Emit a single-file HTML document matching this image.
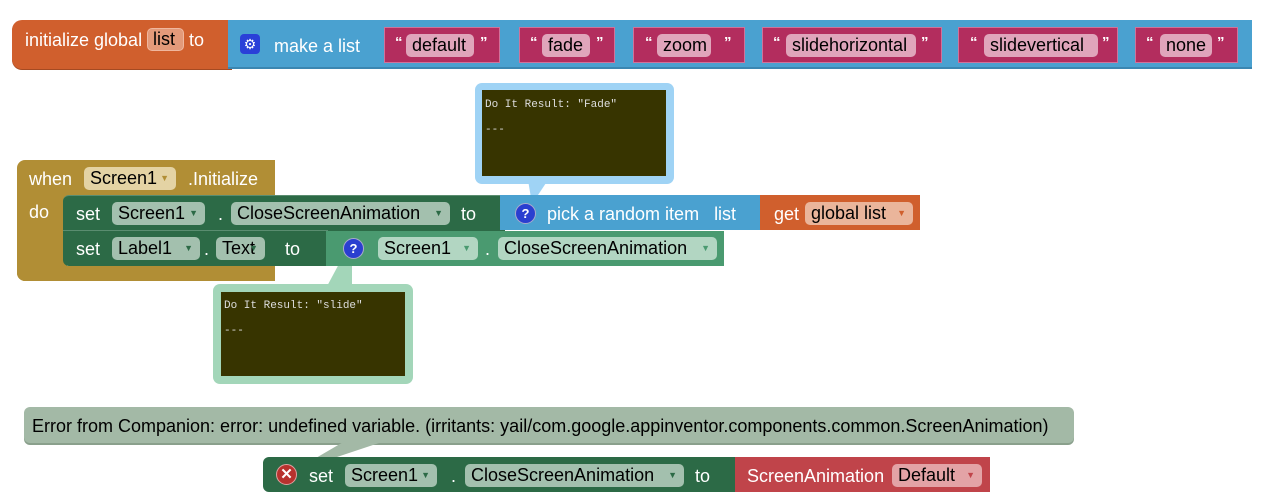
<!DOCTYPE html>
<html><head><meta charset="utf-8"><style>
body{margin:0;width:1265px;height:500px;background:#fff;position:relative;overflow:hidden;font-family:"Liberation Sans",Arial,sans-serif;}
.b{position:absolute;box-sizing:border-box;}
.t{position:absolute;color:#fff;font-size:18px;line-height:20px;white-space:nowrap;}
.f{position:absolute;box-sizing:border-box;border-radius:5px;font-size:18px;line-height:23px;height:23px;padding:0 6px;color:#000;white-space:nowrap;}
.dd{position:absolute;right:7px;top:0;font-size:9px;}
.qt{position:absolute;color:#fff;font-size:15px;font-weight:bold;line-height:20px;}
.q{position:absolute;width:21px;height:21px;border-radius:50%;background:#2a3fd0;border:1px solid #aac;box-sizing:border-box;color:#fff;font-weight:bold;font-size:13px;text-align:center;line-height:19px;}
.mono{font-family:"Liberation Mono",monospace;font-size:11px;color:#ddd;position:absolute;}
</style></head><body>

<!-- Row 1 -->
<div class="b" style="left:12px;top:20px;width:220px;height:49px;background:#d05f2d;border-radius:10px 0 0 10px;box-shadow:0 1px 0 #a54a22;"></div>
<div class="t" style="left:25px;top:30px;">initialize global</div>
<div class="f" style="left:147px;top:28px;width:37px;background:#e39a7a;padding:0 5px;border:1px solid #f0b79e;line-height:21px;">list</div>
<div class="t" style="left:189px;top:30px;">to</div>
<div class="b" style="left:228px;top:20px;width:1024px;height:49px;background:#4aa1d0;border-bottom:2px solid #3b86b1;"></div>
<div class="b" style="left:240px;top:34px;width:20px;height:20px;background:#2a40d8;border-radius:4px;color:#fff;font-size:14px;text-align:center;line-height:20px;">⚙</div>
<div class="t" style="left:274px;top:36px;">make a list</div>

<div class="b" style="left:384px;top:27px;width:116px;height:36px;background:#b32d5e;border:1px solid #d0729a;"></div>
<div class="qt" style="left:395px;top:33px;">“</div>
<div class="f" style="left:406px;top:34px;width:68px;background:#e0a5bb;">default</div>
<div class="qt" style="left:480px;top:33px;">”</div>

<div class="b" style="left:519px;top:27px;width:96px;height:36px;background:#b32d5e;border:1px solid #d0729a;"></div>
<div class="qt" style="left:530px;top:33px;">“</div>
<div class="f" style="left:542px;top:34px;width:48px;background:#e0a5bb;">fade</div>
<div class="qt" style="left:596px;top:33px;">”</div>

<div class="b" style="left:633px;top:27px;width:112px;height:36px;background:#b32d5e;border:1px solid #d0729a;"></div>
<div class="qt" style="left:645px;top:33px;">“</div>
<div class="f" style="left:657px;top:34px;width:54px;background:#e0a5bb;">zoom</div>
<div class="qt" style="left:724px;top:33px;">”</div>

<div class="b" style="left:762px;top:27px;width:180px;height:36px;background:#b32d5e;border:1px solid #d0729a;"></div>
<div class="qt" style="left:773px;top:33px;">“</div>
<div class="f" style="left:786px;top:34px;width:130px;background:#e0a5bb;">slidehorizontal</div>
<div class="qt" style="left:921px;top:33px;">”</div>

<div class="b" style="left:958px;top:27px;width:160px;height:36px;background:#b32d5e;border:1px solid #d0729a;"></div>
<div class="qt" style="left:970px;top:33px;">“</div>
<div class="f" style="left:984px;top:34px;width:114px;background:#e0a5bb;">slidevertical</div>
<div class="qt" style="left:1102px;top:33px;">”</div>

<div class="b" style="left:1135px;top:27px;width:103px;height:36px;background:#b32d5e;border:1px solid #d0729a;"></div>
<div class="qt" style="left:1146px;top:33px;">“</div>
<div class="f" style="left:1160px;top:34px;width:52px;background:#e0a5bb;">none</div>
<div class="qt" style="left:1217px;top:33px;">”</div>

<svg class="b" style="left:0;top:0" width="1265" height="500">
<polygon points="528,180 548,180 532,204" fill="#9fd3f5"/>
<polygon points="340,262 352,250 352,290 325,290" fill="#a3d6b9"/>
</svg>
<!-- bubble 1 -->
<div class="b" style="left:475px;top:83px;width:199px;height:101px;background:#9fd3f5;border-radius:7px;"></div>
<div class="b" style="left:482px;top:90px;width:184px;height:86px;background:#373400;"></div>
<div class="mono" style="left:485px;top:99px;">Do It Result: "Fade"</div>
<div class="mono" style="left:485px;top:124px;">---</div>

<!-- when block -->
<div class="b" style="left:17px;top:160px;width:258px;height:36px;background:#b18e35;border-radius:8px 0 0 0;"></div>
<div class="b" style="left:17px;top:190px;width:50px;height:91px;background:#b18e35;border-radius:0 0 0 8px;"></div>
<div class="b" style="left:17px;top:266px;width:258px;height:15px;background:#b18e35;border-radius:0 0 0 8px;"></div>
<div class="t" style="left:29px;top:169px;">when</div>
<div class="f" style="left:84px;top:167px;width:92px;background:#e4d3a4;">Screen1<span class="dd" style="color:#b18e35">▼</span></div>
<div class="t" style="left:188px;top:169px;">.Initialize</div>
<div class="t" style="left:29px;top:202px;">do</div>

<!-- set 1 -->
<div class="b" style="left:63px;top:195px;width:442px;height:36px;background:#2c6a46;border-radius:6px 0 0 0;border-top:1px solid #5a8d70;"></div>
<div class="t" style="left:76px;top:204px;">set</div>
<div class="f" style="left:112px;top:202px;width:93px;background:#a3c0ae;">Screen1<span class="dd" style="color:#2c6a46">▼</span></div>
<div class="t" style="left:218px;top:204px;">.</div>
<div class="f" style="left:231px;top:202px;width:219px;background:#a3c0ae;">CloseScreenAnimation<span class="dd" style="color:#2c6a46">▼</span></div>
<div class="t" style="left:461px;top:204px;">to</div>
<div class="b" style="left:500px;top:195px;width:262px;height:35px;background:#4aa1d0;"></div>
<div class="q" style="left:515px;top:203px;">?</div>
<div class="t" style="left:547px;top:204px;">pick a random item&nbsp;&nbsp; list</div>
<div class="b" style="left:760px;top:195px;width:160px;height:35px;background:#d05f2d;"></div>
<div class="t" style="left:774px;top:204px;">get</div>
<div class="f" style="left:805px;top:202px;width:108px;background:#eab59b;">global list<span class="dd" style="color:#d05f2d">▼</span></div>

<!-- set 2 -->
<div class="b" style="left:63px;top:230px;width:265px;height:36px;background:#2c6a46;border-radius:0 0 0 6px;border-top:1px solid #5a8d70;"></div>
<div class="t" style="left:76px;top:239px;">set</div>
<div class="f" style="left:112px;top:237px;width:88px;background:#a3c0ae;">Label1<span class="dd" style="color:#2c6a46">▼</span></div>
<div class="t" style="left:204px;top:239px;">.</div>
<div class="f" style="left:216px;top:237px;width:49px;background:#a3c0ae;">Text<span class="dd" style="color:#2c6a46">▼</span></div>
<div class="t" style="left:285px;top:239px;">to</div>
<div class="b" style="left:326px;top:231px;width:398px;height:35px;background:#4a9a70;"></div>
<div class="q" style="left:343px;top:238px;">?</div>
<div class="f" style="left:378px;top:237px;width:100px;background:#b2d6c2;">Screen1<span class="dd" style="color:#4a9a70">▼</span></div>
<div class="t" style="left:485px;top:239px;">.</div>
<div class="f" style="left:498px;top:237px;width:219px;background:#b2d6c2;">CloseScreenAnimation<span class="dd" style="color:#4a9a70">▼</span></div>

<!-- bubble 2 -->
<div class="b" style="left:213px;top:284px;width:200px;height:100px;background:#a3d6b9;border-radius:7px;"></div>
<div class="b" style="left:221px;top:292px;width:184px;height:84px;background:#373400;"></div>
<div class="mono" style="left:224px;top:300px;">Do It Result: "slide"</div>
<div class="mono" style="left:224px;top:325px;">---</div>

<!-- error bubble -->
<div class="b" style="left:24px;top:407px;width:1050px;height:36px;background:#a3b9a6;border-radius:6px;box-shadow:0 2px 0 #8aa08c;"></div>
<div class="t" style="left:32px;top:416px;color:#000;">Error from Companion: error: undefined variable. (irritants: yail/com.google.appinventor.components.common.ScreenAnimation)</div>
<svg class="b" style="left:0;top:0" width="1265" height="500"><polygon points="345,441 385,441 292,472" fill="#a3b9a6"/></svg>

<!-- bottom set -->
<div class="b" style="left:263px;top:457px;width:475px;height:35px;background:#2c6a46;border-radius:6px 0 0 6px;"></div>
<div class="b" style="left:276px;top:464px;width:21px;height:21px;border-radius:50%;background:#b8322e;border:1px solid #e0a0a0;color:#fff;font-size:15px;font-weight:bold;text-align:center;line-height:19px;">✕</div>
<div class="t" style="left:309px;top:466px;">set</div>
<div class="f" style="left:345px;top:464px;width:92px;background:#a3c0ae;">Screen1<span class="dd" style="color:#2c6a46">▼</span></div>
<div class="t" style="left:451px;top:466px;">.</div>
<div class="f" style="left:465px;top:464px;width:219px;background:#a3c0ae;">CloseScreenAnimation<span class="dd" style="color:#2c6a46">▼</span></div>
<div class="t" style="left:695px;top:466px;">to</div>
<div class="b" style="left:735px;top:457px;width:255px;height:35px;background:#c0444a;"></div>
<div class="t" style="left:747px;top:466px;">ScreenAnimation</div>
<div class="f" style="left:892px;top:464px;width:90px;background:#e3a3a6;">Default<span class="dd" style="color:#c0444a">▼</span></div>
</body></html>
